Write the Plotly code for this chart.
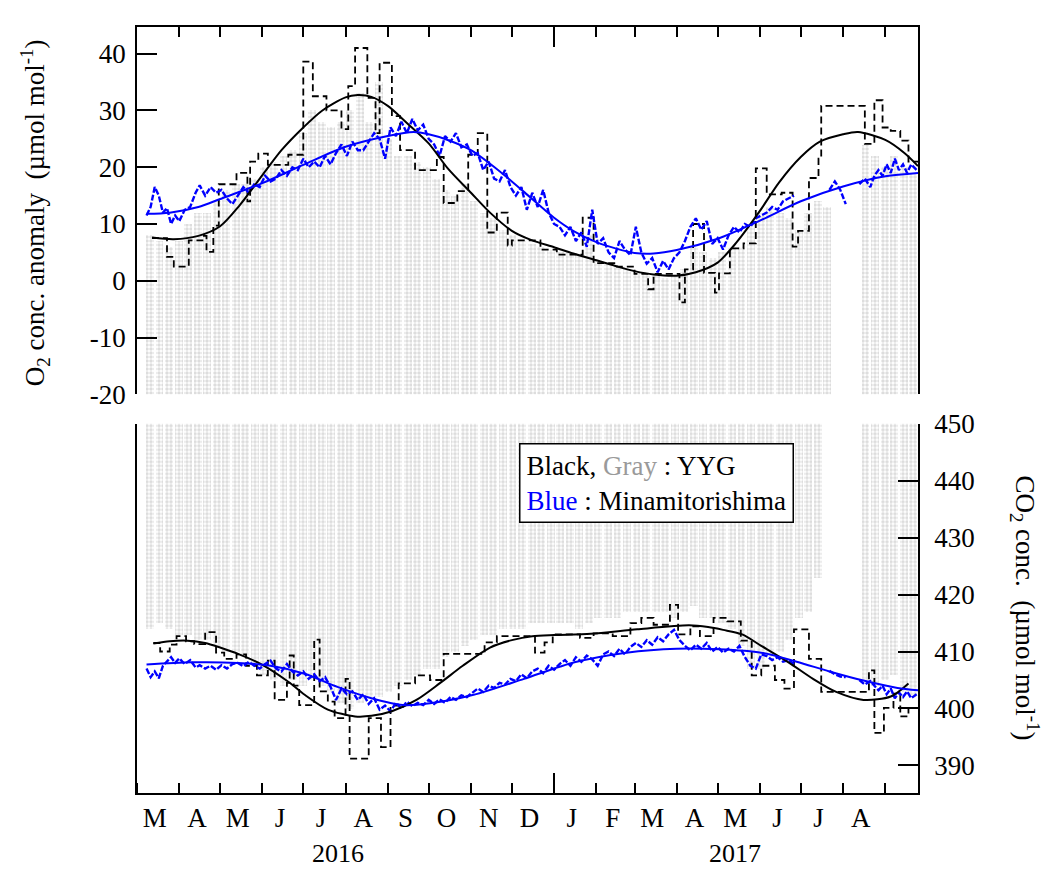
import plotly.graph_objects as go
import pandas as pd

# ---------------- data ----------------
X_START, X_END = "2016-03-01", "2017-09-25"

month_starts = ["2016-03-01","2016-04-01","2016-05-01","2016-06-01","2016-07-01","2016-08-01",
                "2016-09-01","2016-10-01","2016-11-01","2016-12-01","2017-01-01","2017-02-01",
                "2017-03-01","2017-04-01","2017-05-01","2017-06-01","2017-07-01","2017-08-01",
                "2017-09-01"]
month_mids = ["2016-03-14","2016-04-14","2016-05-14","2016-06-14","2016-07-14","2016-08-14",
              "2016-09-14","2016-10-14","2016-11-14","2016-12-14","2017-01-14","2017-02-13",
              "2017-03-14","2017-04-14","2017-05-14","2017-06-14","2017-07-14","2017-08-14"]
month_letters = ["M","A","M","J","J","A","S","O","N","D","J","F","M","A","M","J","J","A"]
year_labels = ["2016", "2017"]
o2_ticks = [-20, -10, 0, 10, 20, 30, 40]
o2_ticktext = ["-20", "-10", "0", "10", "20", "30", "40"]
co2_ticks = [390, 400, 410, 420, 430, 440, 450]

# YYG weekly-binned scatter envelope (gray hourly data)
gray_week_start = "2016-03-10 12:00"
o2_gray_upper = [8,7,6,7,10,12,12,14,16,17, 17,18,20,21,22,23,26,30,28,27,
                 28,30,33,28,35,25,22,22,21,20, 18,16,15,17,14,12,11,9,8,7,
                 6.5,6,5.5,5,5,4.5,8,3.5,3,2.5, 2,1.5,1,1,0.5,1,2,6,5,4,
                 5,6,6,10,12,13,12,11,9,12, 14,13,None,None,None,24,22,20,22,20,19]
co2_gray_lower = [414,415,414,413,413,412,412,411,410,410, 409,408,406,405,404,405,404,405,404,403,
                  401,400,401,402,402,403,404,405,406,407, 407,409,410,411,412,413,413,414,414,414,
                  415,415,415,415,415,414,415,416,416,416, 417,417,417,417,417,416,417,418,416,416,
                  415,414,411,407,407,409,410,412,416,417, 423,None,None,None,None,405,404,405,406,403,402]

# YYG step (black dashed)
o2_step_dates = ["2016-03-12","2016-03-23","2016-03-28","2016-04-08","2016-04-18","2016-04-21","2016-04-26",
                 "2016-04-30","2016-05-13","2016-05-21","2016-05-23","2016-05-29","2016-06-05","2016-06-20",
                 "2016-07-01","2016-07-08","2016-07-18","2016-07-29","2016-08-03","2016-08-08","2016-08-17",
                 "2016-08-23","2016-08-26","2016-09-04","2016-09-10","2016-09-21","2016-10-07","2016-10-12",
                 "2016-10-22","2016-10-30","2016-11-06","2016-11-13","2016-11-20","2016-11-28","2016-12-01",
                 "2016-12-22","2017-01-03","2017-01-22","2017-01-30","2017-02-16","2017-03-01","2017-03-11",
                 "2017-03-15","2017-04-03","2017-04-07","2017-04-13","2017-04-21","2017-04-29","2017-05-02",
                 "2017-05-10","2017-05-20","2017-05-29","2017-06-06","2017-06-17","2017-06-25","2017-06-29",
                 "2017-07-07","2017-07-14","2017-07-16","2017-08-17","2017-08-24","2017-08-30","2017-09-05",
                 "2017-09-12","2017-09-18","2017-09-25"]
o2_step_vals = [7.5,4.2,2.5,7.1,7.9,5.1,9.7,17.0,19.0,14.0,21.0,22.4,20.4,22.2,38.6,32.5,30.0,26.7,34.3,41.0,
                32.2,26.0,38.4,29.0,23.0,19.5,21.8,13.7,15.8,22.2,26.0,8.5,12.0,6.2,7.1,5.5,4.6,11.1,3.1,2.5,
                1.2,-1.5,1.2,-3.8,2.0,10.0,1.4,-2.1,1.3,5.7,6.6,19.8,15.2,15.5,6.0,8.8,18.1,21.5,30.8,24.1,
                31.8,27.0,26.4,24.7,21.0,21.0]

co2_step_dates = ["2016-03-13","2016-03-18","2016-03-25","2016-03-30","2016-04-06","2016-04-12","2016-04-20",
                  "2016-04-28","2016-05-04","2016-05-13","2016-05-20","2016-05-28","2016-06-05","2016-06-10",
                  "2016-06-19","2016-06-21","2016-06-24","2016-06-28","2016-07-09","2016-07-13","2016-07-19",
                  "2016-07-24","2016-08-01","2016-08-04","2016-08-18","2016-08-27","2016-09-03","2016-09-09",
                  "2016-09-21","2016-10-02","2016-10-12","2016-11-11","2016-11-20","2016-12-18","2016-12-25",
                  "2016-12-31","2017-01-20","2017-01-30","2017-02-13","2017-02-26","2017-03-06","2017-03-15",
                  "2017-03-27","2017-04-02","2017-04-11","2017-04-18","2017-04-28","2017-05-08","2017-05-18",
                  "2017-05-26","2017-06-02","2017-06-12","2017-06-19","2017-06-26","2017-07-07","2017-07-16",
                  "2017-08-20","2017-08-24","2017-08-31","2017-09-07","2017-09-12","2017-09-18","2017-09-25"]
co2_step_vals = [411.5,410.0,411.2,412.7,411.8,411.3,413.4,409.8,408.7,409.5,407.5,405.8,408.4,401.5,404.5,
                 409.3,404.0,400.6,412.1,403.0,401.2,398.3,405.2,391.2,398.3,393.2,400.5,404.4,405.8,405.0,
                 409.6,411.6,412.7,409.8,411.6,413.0,412.4,413.2,412.7,415.0,415.9,414.7,418.2,413.0,414.4,
                 412.7,415.9,415.3,411.9,405.8,407.5,405.0,403.5,413.9,408.7,402.9,406.7,395.7,400.1,402.6,
                 398.6,400.1,400.1]

# YYG smooth fit (black solid)
o2_fit_dates = ["2016-03-12","2016-03-28","2016-04-15","2016-05-01","2016-05-15","2016-06-01","2016-06-15",
                "2016-07-01","2016-07-15","2016-08-01","2016-08-10","2016-08-20","2016-09-01","2016-09-15",
                "2016-10-01","2016-10-15","2016-11-01","2016-11-15","2016-12-01","2016-12-15","2017-01-01",
                "2017-01-15","2017-02-01","2017-02-15","2017-03-01","2017-03-15","2017-04-01","2017-04-15",
                "2017-05-01","2017-05-15","2017-06-01","2017-06-15","2017-07-01","2017-07-15","2017-08-01",
                "2017-08-12","2017-09-01","2017-09-15","2017-09-25"]
o2_fit_vals = [7.6,7.3,7.9,9.6,13.2,18.6,23.0,27.0,30.0,32.3,32.7,32.4,30.8,27.8,24.2,19.8,15.5,12.0,8.8,7.2,
               5.9,4.8,3.6,2.6,1.7,1.1,0.9,1.5,3.2,6.8,12.3,17.3,21.8,24.5,25.8,26.2,24.8,22.5,20.2]

co2_fit_dates = ["2016-03-13","2016-03-25","2016-04-07","2016-04-20","2016-05-01","2016-05-15","2016-05-31",
                 "2016-06-20","2016-07-02","2016-07-19","2016-08-08","2016-08-20","2016-09-04","2016-09-22",
                 "2016-10-09","2016-10-26","2016-11-15","2016-12-01","2016-12-16","2017-01-01","2017-01-28",
                 "2017-03-03","2017-04-10","2017-04-24","2017-05-05","2017-05-19","2017-06-02","2017-06-22",
                 "2017-07-10","2017-07-27","2017-08-16","2017-09-05","2017-09-18"]
co2_fit_vals = [411.4,411.8,411.9,411.5,410.7,409.5,407.8,404.7,402.4,399.8,398.6,398.7,399.5,401.5,404.4,
                407.5,410.7,412.0,412.7,412.9,413.1,413.9,414.6,414.3,413.8,413.0,411.0,408.1,405.2,402.9,
                401.5,402.1,404.4]

# Minamitorishima smooth fit (blue solid)
mnm_o2_fit_dates = ["2016-03-08","2016-03-25","2016-04-15","2016-05-01","2016-06-01","2016-07-01","2016-08-01",
                    "2016-09-01","2016-09-20","2016-10-01","2016-10-15","2016-11-01","2016-11-15","2016-12-01",
                    "2016-12-15","2017-01-01","2017-01-15","2017-02-01","2017-02-15","2017-03-01","2017-03-15",
                    "2017-04-01","2017-05-01","2017-06-01","2017-07-01","2017-08-01","2017-09-01","2017-09-25"]
mnm_o2_fit_vals = [11.8,12.0,13.0,14.4,17.2,20.4,23.6,25.5,26.2,25.8,24.8,23.0,20.6,17.5,14.6,11.1,8.8,6.8,
                   5.7,4.9,4.8,5.4,7.4,10.6,14.0,16.6,18.4,19.0]
mnm_co2_fit_dates = ["2016-03-08","2016-04-10","2016-05-14","2016-06-07","2016-07-02","2016-07-26","2016-08-20",
                     "2016-09-12","2016-10-02","2016-11-03","2016-12-10","2017-01-16","2017-02-23","2017-04-01",
                     "2017-05-02","2017-06-02","2017-06-28","2017-07-22","2017-08-16","2017-09-10","2017-09-25"]
mnm_co2_fit_vals = [407.7,408.1,408.0,407.5,406.1,403.8,401.8,400.6,400.9,402.4,405.2,408.1,409.8,410.5,
                    410.4,409.8,408.2,406.5,404.9,403.6,403.2]

# Minamitorishima observations (blue, broken line)
mnm_dates = [
 "2016-03-08","2016-03-11","2016-03-14","2016-03-17","2016-03-20","2016-03-23","2016-03-26","2016-03-29",
 "2016-04-01","2016-04-05","2016-04-09","2016-04-13","2016-04-16","2016-04-20","2016-04-24","2016-04-28",
 "2016-05-02","2016-05-06","2016-05-10","2016-05-14","2016-05-18","2016-05-22","2016-05-26","2016-05-30",
 "2016-06-03","2016-06-07","2016-06-11","2016-06-15","2016-06-19","2016-06-23","2016-06-27",
 "2016-07-01","2016-07-05","2016-07-09","2016-07-13","2016-07-17","2016-07-21","2016-07-25","2016-07-29",
 "2016-08-02","2016-08-06","2016-08-10","2016-08-14","2016-08-18","2016-08-22","2016-08-26","2016-08-30",
 "2016-09-03","2016-09-07","2016-09-11","2016-09-15","2016-09-19","2016-09-23","2016-09-27",
 "2016-10-01","2016-10-05","2016-10-09","2016-10-13","2016-10-17","2016-10-21","2016-10-25","2016-10-29",
 "2016-11-02","2016-11-06","2016-11-10","2016-11-14","2016-11-18","2016-11-22","2016-11-26","2016-11-30",
 "2016-12-04","2016-12-08","2016-12-12","2016-12-16","2016-12-20","2016-12-24","2016-12-28",
 "2017-01-01","2017-01-05","2017-01-09","2017-01-13","2017-01-17","2017-01-21","2017-01-25","2017-01-29",
 "2017-02-02","2017-02-06","2017-02-10","2017-02-14","2017-02-18","2017-02-22","2017-02-26",
 "2017-03-02","2017-03-06","2017-03-10","2017-03-14","2017-03-18","2017-03-22","2017-03-26","2017-03-30",
 "2017-04-03","2017-04-07","2017-04-11","2017-04-15","2017-04-19","2017-04-23","2017-04-27",
 "2017-05-01","2017-05-05","2017-05-09","2017-05-13","2017-05-17","2017-05-21","2017-05-25","2017-05-29",
 "2017-06-02","2017-06-06","2017-06-10","2017-06-14","2017-06-18","2017-06-22","2017-06-26","2017-06-30",
 "2017-07-22","2017-07-26","2017-07-30",
 "2017-08-03","2017-08-06","2017-08-13","2017-08-17","2017-08-21","2017-08-24","2017-08-27","2017-08-30",
 "2017-09-02","2017-09-05","2017-09-08","2017-09-11","2017-09-14","2017-09-17","2017-09-20","2017-09-24"]
mnm_o2_vals = [
 11.5,13.0,16.5,15.0,12.0,12.8,10.0,11.5,
 10.5,12.5,13.0,15.5,16.8,15.0,16.5,15.5,
 16.0,14.5,13.5,15.0,16.5,15.5,17.0,16.5,
 18.5,17.5,18.0,19.5,18.5,20.0,19.5,
 21.5,20.0,21.0,20.0,22.0,20.5,22.5,24.0,
 22.0,24.5,23.0,23.0,24.5,26.0,25.0,21.5,
 27.0,25.5,28.0,26.0,28.5,26.5,27.5,
 25.0,24.0,22.0,25.5,24.5,26.0,23.5,24.0,
 22.0,22.5,19.5,21.0,18.0,17.5,19.5,16.5,
 15.0,16.5,12.5,15.5,13.0,16.0,12.0,
 10.0,9.5,8.0,9.5,7.0,8.5,6.0,12.5,
 6.5,7.5,5.0,4.0,7.0,5.5,4.5,
 9.5,5.0,3.0,4.0,1.5,3.5,2.0,4.0,
 5.0,7.0,9.5,11.0,9.0,10.5,6.5,
 7.5,5.5,8.0,9.5,8.5,10.0,9.5,11.0,
 11.5,12.0,13.0,12.5,14.0,14.5,15.0,None,
 16.0,17.5,16.0,
 13.5,None,17.0,18.0,16.5,18.5,19.5,18.5,
 20.5,19.0,21.5,19.5,20.5,19.0,20.5,19.5]
mnm_co2_vals = [
 407.0,405.5,406.5,405.3,407.5,408.2,409.0,408.0,
 408.8,407.8,408.5,407.2,407.6,407.0,407.5,406.8,
 407.6,407.0,407.8,408.0,407.4,408.2,407.5,407.0,
 407.8,408.4,407.0,406.5,407.8,406.5,405.8,
 406.5,405.2,406.0,404.8,405.5,403.8,401.5,403.5,
 402.5,403.0,401.5,402.5,400.8,401.8,399.8,400.5,
 399.5,401.0,400.0,401.2,400.4,401.0,400.6,
 401.5,400.8,401.6,401.0,402.0,401.5,402.3,402.0,
 402.8,403.5,402.9,404.0,403.6,404.5,404.2,405.2,
 404.8,406.0,405.3,406.5,407.0,406.2,407.5,
 406.8,407.8,408.5,407.5,409.0,408.2,409.3,408.6,
 407.5,409.5,410.0,409.2,410.5,409.5,410.8,
 411.5,410.8,412.0,411.2,412.5,411.8,413.0,413.8,
 412.0,411.0,410.2,411.2,410.5,411.5,410.0,
 410.8,409.8,410.5,410.0,411.0,409.0,407.5,407.0,
 409.5,409.2,408.5,409.0,408.2,408.5,407.8,None,
 406.6,406.0,405.6,
 405.5,None,405.0,404.2,404.8,404.0,403.2,404.0,
 402.5,403.5,401.8,402.8,402.0,403.0,401.8,402.5]

O2_BASE = -25      # below the visible range (gray extends to the bottom edge)
CO2_TOP = 456      # above the visible range (gray extends to the top edge)

# ---------------- figure ----------------
FONT = "Liberation Serif"
FS = 27
BLUE = "#0000ff"
GRAYDOT = "#bcbcbc"

week_centers = pd.date_range(gray_week_start, periods=len(o2_gray_upper), freq="7D")
bar_w = 5.8 * 24 * 3600 * 1000

fig = go.Figure()

dot_pattern = dict(shape=".", fgcolor=GRAYDOT, bgcolor="rgba(0,0,0,0)", size=4, solidity=0.6)

fig.add_trace(go.Bar(
    x=week_centers, y=[None if v is None else v - O2_BASE for v in o2_gray_upper], base=O2_BASE,
    width=bar_w, marker=dict(color="rgba(0,0,0,0)", line=dict(width=0), pattern=dot_pattern),
    xaxis="x", yaxis="y", showlegend=False, hoverinfo="skip"))
fig.add_trace(go.Bar(
    x=week_centers, y=[None if v is None else CO2_TOP - v for v in co2_gray_lower],
    base=[None if v is None else v for v in co2_gray_lower],
    width=bar_w, marker=dict(color="rgba(0,0,0,0)", line=dict(width=0), pattern=dot_pattern),
    xaxis="x2", yaxis="y2", showlegend=False, hoverinfo="skip"))

# black dashed steps
fig.add_trace(go.Scatter(x=o2_step_dates, y=o2_step_vals, mode="lines", line_shape="hv",
                         line=dict(color="black", width=1.8, dash="7px,4px"),
                         xaxis="x", yaxis="y", showlegend=False))
fig.add_trace(go.Scatter(x=co2_step_dates, y=co2_step_vals, mode="lines", line_shape="hv",
                         line=dict(color="black", width=1.8, dash="7px,4px"),
                         xaxis="x2", yaxis="y2", showlegend=False))

# blue observations
fig.add_trace(go.Scatter(x=mnm_dates, y=mnm_o2_vals, mode="lines",
                         line=dict(color=BLUE, width=2.4, dash="6px,2px"),
                         connectgaps=False, xaxis="x", yaxis="y", showlegend=False))
fig.add_trace(go.Scatter(x=mnm_dates, y=mnm_co2_vals, mode="lines",
                         line=dict(color=BLUE, width=2.4, dash="6px,2px"),
                         connectgaps=False, xaxis="x2", yaxis="y2", showlegend=False))

# black fits
fig.add_trace(go.Scatter(x=o2_fit_dates, y=o2_fit_vals, mode="lines", line_shape="spline",
                         line=dict(color="black", width=2, smoothing=0.8), xaxis="x", yaxis="y", showlegend=False))
fig.add_trace(go.Scatter(x=co2_fit_dates, y=co2_fit_vals, mode="lines", line_shape="spline",
                         line=dict(color="black", width=2, smoothing=0.8), xaxis="x2", yaxis="y2", showlegend=False))
# blue fits
fig.add_trace(go.Scatter(x=mnm_o2_fit_dates, y=mnm_o2_fit_vals, mode="lines", line_shape="spline",
                         line=dict(color=BLUE, width=2, smoothing=0.8), xaxis="x", yaxis="y", showlegend=False))
fig.add_trace(go.Scatter(x=mnm_co2_fit_dates, y=mnm_co2_fit_vals, mode="lines", line_shape="spline",
                         line=dict(color=BLUE, width=2, smoothing=0.8), xaxis="x2", yaxis="y2", showlegend=False))

# invisible trace to carry the overlay axis with the long January tick
fig.add_trace(go.Scatter(x=[X_START, X_END], y=[None, None], mode="lines",
                         xaxis="x3", yaxis="y2", showlegend=False, hoverinfo="skip"))

tickfont = dict(family=FONT, size=FS, color="black")
minor_months = dict(tickmode="array", tickvals=month_starts, ticks="inside", ticklen=10,
                    tickwidth=1.5, tickcolor="black", showgrid=False)

fig.update_layout(
    width=1054, height=869,
    margin=dict(l=137, r=136, t=13, b=76),
    paper_bgcolor="white", plot_bgcolor="white",
    barmode="overlay", bargap=0,
    font=dict(family=FONT, size=FS, color="black"),
    showlegend=False,
    xaxis=dict(domain=[0, 1], anchor="y", side="top", type="date", range=[X_START, X_END],
               showline=True, linecolor="black", linewidth=1.5, mirror=False,
               tickmode="array", tickvals=["2017-01-01"], ticks="inside", ticklen=20,
               tickwidth=1.5, tickcolor="black", showticklabels=False,
               showgrid=False, zeroline=False, minor=minor_months),
    yaxis=dict(domain=[0.5205, 1], anchor="x", range=[-20, 44.7],
               tickmode="array", tickvals=o2_ticks, ticktext=o2_ticktext,
               ticks="inside", ticklen=20, tickwidth=1.5, tickcolor="black",
               showline=True, linecolor="black", linewidth=1.5, mirror=True,
               showgrid=False, zeroline=False, tickfont=tickfont, ticklabelstandoff=4),
    xaxis2=dict(domain=[0, 1], anchor="y2", side="bottom", type="date", range=[X_START, X_END],
                showline=True, linecolor="black", linewidth=1.5,
                tickmode="array", tickvals=month_mids, ticktext=month_letters, ticks="",
                tickfont=tickfont, ticklabelstandoff=0,
                showgrid=False, zeroline=False, minor=minor_months),
    xaxis3=dict(overlaying="x2", anchor="y2", side="bottom", type="date", range=[X_START, X_END],
                showline=False, tickmode="array", tickvals=["2017-01-01"], ticks="inside",
                ticklen=20, tickwidth=1.5, tickcolor="black", showticklabels=False,
                showgrid=False, zeroline=False),
    yaxis2=dict(domain=[0, 0.482], anchor="x2", side="right", range=[385.15, 450],
                tickmode="array", tickvals=co2_ticks,
                ticks="inside", ticklen=20, tickwidth=1.5, tickcolor="black",
                showline=True, linecolor="black", linewidth=1.5, mirror=True,
                showgrid=False, zeroline=False, tickfont=tickfont, ticklabelstandoff=9),
)

annotations = [
    dict(text="O<sub>2</sub> conc. anomaly\u00a0 (\u00b5mol mol<sup>-1</sup>)", xref="paper", yref="paper",
         x=-0.1306, y=0.757, textangle=-90, showarrow=False, xanchor="center", yanchor="middle",
         font=dict(family=FONT, size=FS, color="black")),
    dict(text="CO<sub>2</sub> conc.\u00a0 (\u00b5mol mol<sup>-1</sup>)", xref="paper", yref="paper",
         x=1.137, y=0.241, textangle=90, showarrow=False, xanchor="center", yanchor="middle",
         font=dict(family=FONT, size=FS, color="black")),
    dict(text=year_labels[0], xref="paper", yref="paper", x=0.258, y=-0.0785, showarrow=False,
         xanchor="center", yanchor="middle", font=dict(family=FONT, size=26, color="black")),
    dict(text=year_labels[1], xref="paper", yref="paper", x=0.766, y=-0.0785, showarrow=False,
         xanchor="center", yanchor="middle", font=dict(family=FONT, size=26, color="black")),
    dict(text=("Black, <span style='color:#9a9a9a'>Gray</span> : YYG<br>"
               "<span style='color:#0000ff'>Blue</span> : Minamitorishima"),
         xref="paper", yref="paper", x=0.4891, y=0.4565, xanchor="left", yanchor="top",
         align="left", showarrow=False, bgcolor="white", bordercolor="black", borderwidth=1.5,
         borderpad=6, font=dict(family=FONT, size=FS, color="black")),
]
fig.update_layout(annotations=annotations)

fig.write_html("out.html")
